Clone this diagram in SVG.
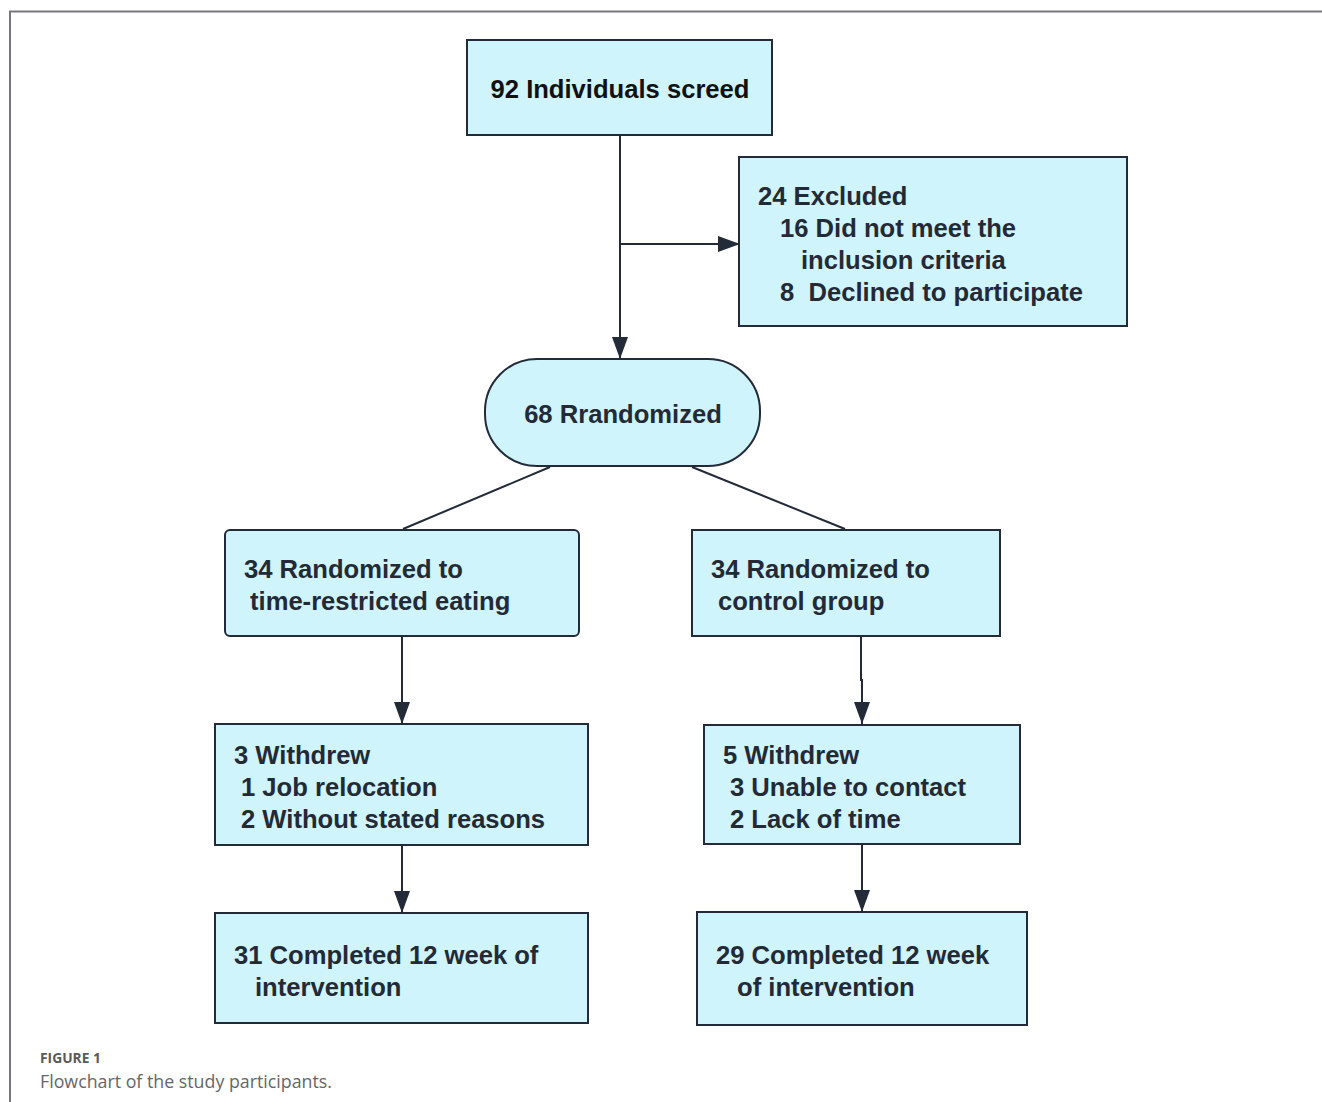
<svg xmlns="http://www.w3.org/2000/svg" width="1322" height="1102" viewBox="0 0 1322 1102">
<defs>
<style>
.box{fill:#cff4fc;stroke:#232a38;stroke-width:2}
.t{font-family:"Liberation Sans",Arial,sans-serif;font-weight:bold;font-size:25.6px;fill:#232a36}
.c{stroke:#232a38;stroke-width:2;fill:none}
.cap1{font-family:"Open Sans",Lato,sans-serif;font-weight:bold;font-size:13.8px;fill:#5a5a5a}
.cap2{font-family:"Open Sans",Lato,sans-serif;font-size:17.8px;fill:#666}
</style>
<marker id="arr" viewBox="0 0 22 16" refX="22" refY="8" markerWidth="22" markerHeight="16" markerUnits="userSpaceOnUse" orient="auto">
<path d="M0,0 L22,8 L0,16 Z" fill="#232a38"/>
</marker>
</defs>
<rect width="1322" height="1102" fill="#fff"/>
<path d="M10,1102 V11.5 H1322" fill="none" stroke="#767680" stroke-width="2"/>
<g id="connectors">
<path class="c" d="M620,135 V359" marker-end="url(#arr)"/>
<path class="c" d="M621,244 H740" marker-end="url(#arr)"/>
<path class="c" d="M550,467 L403,529"/>
<path class="c" d="M692,467 L845,529"/>
<path class="c" d="M402,636 V724" marker-end="url(#arr)"/>
<path class="c" d="M861,636 V680 H862 V724" marker-end="url(#arr)"/>
<path class="c" d="M402,845 V913" marker-end="url(#arr)"/>
<path class="c" d="M862,845 V912" marker-end="url(#arr)"/>
</g>
<g id="screened">
<rect class="box" x="467" y="40" width="305" height="95"/>
<text class="t" x="620" y="98" text-anchor="middle" style="fill:#111">92 Individuals screed</text>
</g>
<g id="excluded">
<rect class="box" x="739" y="157" width="388" height="169"/>
<text class="t" x="758" y="205">24 Excluded</text>
<text class="t" x="780" y="237">16 Did not meet the</text>
<text class="t" x="801" y="269">inclusion criteria</text>
<text class="t" x="780" y="301" xml:space="preserve">8  Declined to participate</text>
</g>
<g id="randomized">
<rect class="box" x="485" y="359" width="275" height="107" rx="52" ry="52"/>
<text class="t" x="623" y="423" text-anchor="middle">68 Rrandomized</text>
</g>
<g id="tre">
<rect class="box" x="225" y="530" width="354" height="106" rx="5"/>
<text class="t" x="244" y="578">34 Randomized to</text>
<text class="t" x="250" y="610">time-restricted eating</text>
</g>
<g id="control">
<rect class="box" x="692" y="530" width="308" height="106"/>
<text class="t" x="711" y="578">34 Randomized to</text>
<text class="t" x="718" y="610">control group</text>
</g>
<g id="withdrew-tre">
<rect class="box" x="215" y="724" width="373" height="121"/>
<text class="t" x="234" y="764">3 Withdrew</text>
<text class="t" x="241" y="796">1 Job relocation</text>
<text class="t" x="241" y="828">2 Without stated reasons</text>
</g>
<g id="withdrew-control">
<rect class="box" x="704" y="725" width="316" height="119"/>
<text class="t" x="723" y="764">5 Withdrew</text>
<text class="t" x="730" y="796">3 Unable to contact</text>
<text class="t" x="730" y="828">2 Lack of time</text>
</g>
<g id="completed-tre">
<rect class="box" x="215" y="913" width="373" height="110"/>
<text class="t" x="234" y="964">31 Completed 12 week of</text>
<text class="t" x="255" y="996">intervention</text>
</g>
<g id="completed-control">
<rect class="box" x="697" y="912" width="330" height="113"/>
<text class="t" x="716" y="964">29 Completed 12 week</text>
<text class="t" x="737" y="996">of intervention</text>
</g>
<g id="caption">
<text class="cap1" x="40" y="1063">FIGURE 1</text>
<text class="cap2" x="40" y="1088">Flowchart of the study participants.</text>
</g>
</svg>
